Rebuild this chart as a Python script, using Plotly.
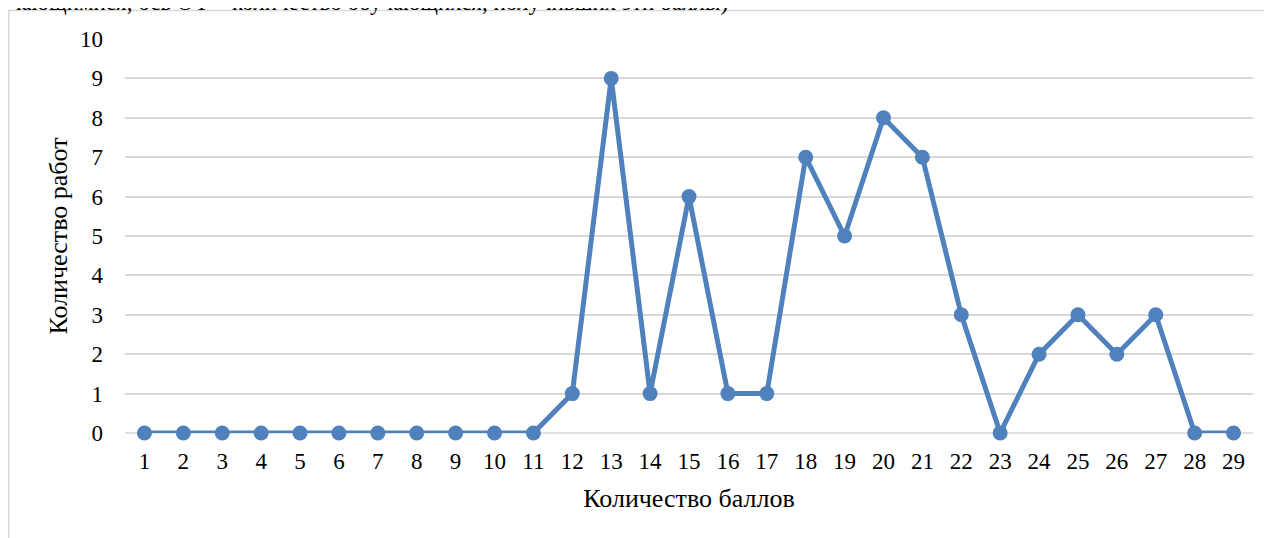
import plotly.graph_objects as go

scores = list(range(1, 30))
counts = [0, 0, 0, 0, 0, 0, 0, 0, 0, 0, 0, 1, 9, 1, 6, 1, 1, 7, 5, 8, 7, 3, 0, 2, 3, 2, 3, 0, 0]
y_ticks = list(range(0, 11))
x_title = "Количество баллов"
y_title = "Количество работ"
top_text = "чающимися, ось OY – количество обучающихся, получивших эти баллы)"

# page has an 8px body margin: screen px = figure px + 8
OFF = 8
W, H = 1272, 538
L, T = 125 - OFF, 39 - OFF
pw, ph = 1128, 394
R = W - L - pw
B = H - T - ph

def sx(px):
    return (px - OFF - L) / pw

def sy(py):
    return (H - B - (py - OFF)) / ph

color = "#4F81BD"
serif = "Liberation Serif, Times New Roman, serif"
tick_font = dict(family=serif, size=23, color="#000000")
title_font = dict(family=serif, size=26, color="#000000")

fig = go.Figure()
fig.add_trace(go.Scatter(
    x=scores, y=counts, mode="lines+markers",
    line=dict(color=color, width=5),
    marker=dict(color=color, size=15),
    showlegend=False, cliponaxis=False,
))

fig.update_layout(
    width=W, height=H,
    margin=dict(l=L, r=R, t=T, b=B),
    paper_bgcolor="white", plot_bgcolor="white",
    font=tick_font,
    xaxis=dict(
        range=[0.5, 29.5], tickmode="array", tickvals=scores,
        ticktext=[str(s) for s in scores], showgrid=False, zeroline=False,
        showline=False, ticks="", ticklabelstandoff=12, tickfont=tick_font,
        title=dict(text=x_title, font=title_font, standoff=15),
    ),
    yaxis=dict(
        range=[0, 10], tickmode="array", tickvals=y_ticks,
        ticktext=[str(v) for v in y_ticks], showgrid=True, gridcolor="#D9D9D9",
        gridwidth=1.5, zeroline=False, showline=False, ticks="", ticklabelstandoff=21,
        tickfont=tick_font,
        title=dict(text=y_title, font=title_font, standoff=4),
    ),
    shapes=[
        dict(type="rect", xref="paper", yref="paper",
             x0=sx(8.75), x1=sx(1300), y0=sy(10.5), y1=sy(700),
             line=dict(color="#D9D9D9", width=1.5), fillcolor="rgba(0,0,0,0)", layer="below"),
        dict(type="line", xref="paper", yref="paper",
             x0=0, x1=1, y0=0, y1=0, line=dict(color="#D9D9D9", width=1.5), layer="below"),
    ],
    annotations=[
        dict(text=top_text, xref="paper", yref="paper", x=sx(730), y=sy(2),
             xanchor="right", yanchor="middle", showarrow=False,
             font=dict(family=serif, size=23, color="#000000")),
    ],
)

fig.write_html("out.html")
